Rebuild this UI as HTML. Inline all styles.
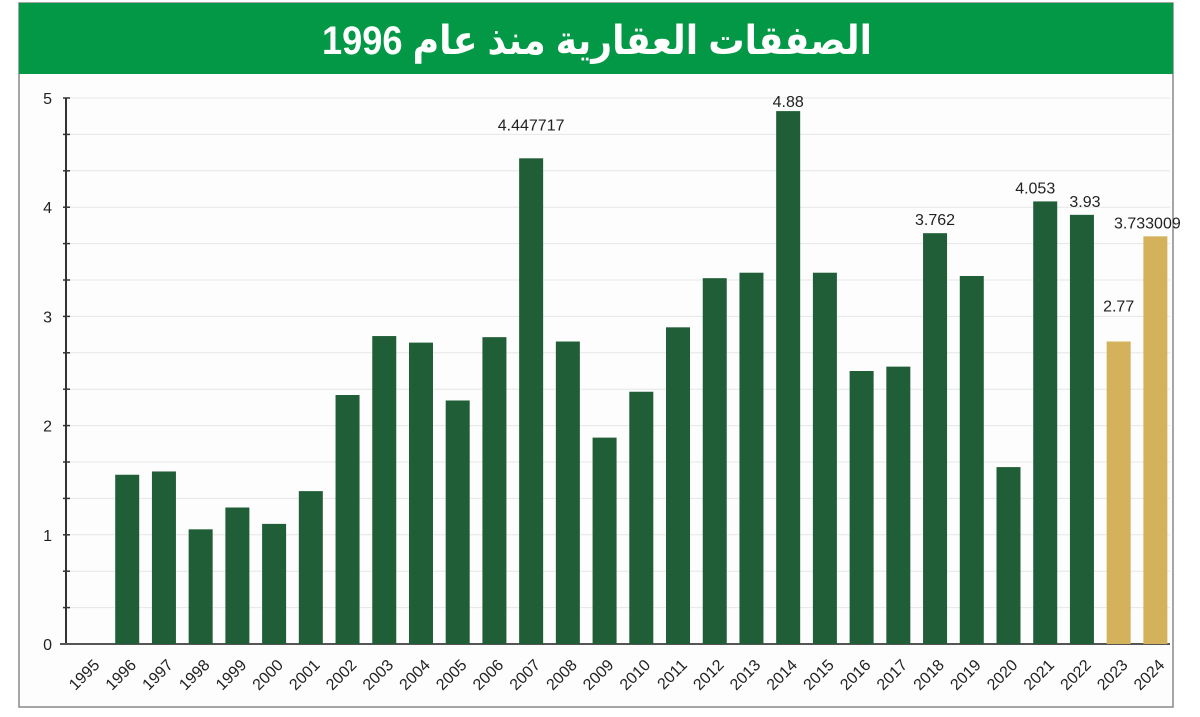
<!DOCTYPE html><html><head><meta charset="utf-8"><style>
body{margin:0;width:1200px;height:712px;background:#fff;overflow:hidden}
</style></head><body>
<svg width="1200" height="712" xmlns="http://www.w3.org/2000/svg" font-family="Liberation Sans, sans-serif">
<rect x="19" y="3" width="1154" height="704" fill="#fdfdfd" stroke="#888" stroke-width="1.5"/>
<rect x="19" y="3" width="1154" height="71" fill="#039846"/>
<text x="597" y="54" text-anchor="middle" font-size="40" font-weight="bold" fill="#fff" font-family="Liberation Sans, DejaVu Sans, sans-serif" textLength="550" lengthAdjust="spacingAndGlyphs">الصفقات العقارية منذ عام 1996</text>
<g id="g"></g>
</svg>
<script>
const vals=[null,1.55,1.58,1.05,1.25,1.1,1.4,2.28,2.82,2.76,2.23,2.81,4.447717,2.77,1.89,2.31,2.9,3.35,3.4,4.88,3.4,2.5,2.54,3.762,3.37,1.62,4.053,3.93,2.77,3.733009];
const labels={12:"4.447717",19:"4.88",23:"3.762",26:"4.053",27:"3.93",28:"2.77",29:"3.733009"};
const y0=644,u=109.2;let s="";
for(let i=0;i<=15;i++){const y=y0-i*u/3;s+=`<line x1="66" x2="1170" y1="${y}" y2="${y}" stroke="#e6e6e6" stroke-width="1"/><line x1="63" x2="70" y1="${y}" y2="${y}" stroke="#333" stroke-width="1.5"/>`;}
for(let i=0;i<=5;i++){const y=y0-i*u;s+=`<text x="52" y="${y+6}" text-anchor="end" font-size="16" fill="#222">${i}</text>`;}
s+=`<line x1="66" x2="66" y1="98" y2="${y0}" stroke="#333" stroke-width="2"/><line x1="60" x2="1170" y1="${y0}" y2="${y0}" stroke="#555" stroke-width="2"/>`;
for(let i=0;i<30;i++){const cx=90.5+i*36.72;const v=vals[i];
if(v!==null){const h=v*u;const c=i>=28?"#d4b25c":"#1f5e36";s+=`<rect x="${cx-12}" y="${y0-h}" width="24" height="${h}" fill="${c}"/>`;}
if(labels[i]){const h=v*u;let yy=y0-h-8;let xx=cx;if(i==12)yy-=20;if(i==28){yy-=22;}if(i==19)yy+=4;if(i==26)xx-=10;if(i==27)xx+=3;if(i==29)xx-=8;
s+=`<text x="${xx}" y="${yy}" text-anchor="middle" font-size="16" fill="#222">${labels[i]}</text>`;}
s+=`<text transform="translate(${cx+10},${y0+22}) rotate(-45)" text-anchor="end" font-size="16" fill="#222">${1995+i}</text>`;}
document.getElementById("g").innerHTML=s;
</script>
</body></html>
